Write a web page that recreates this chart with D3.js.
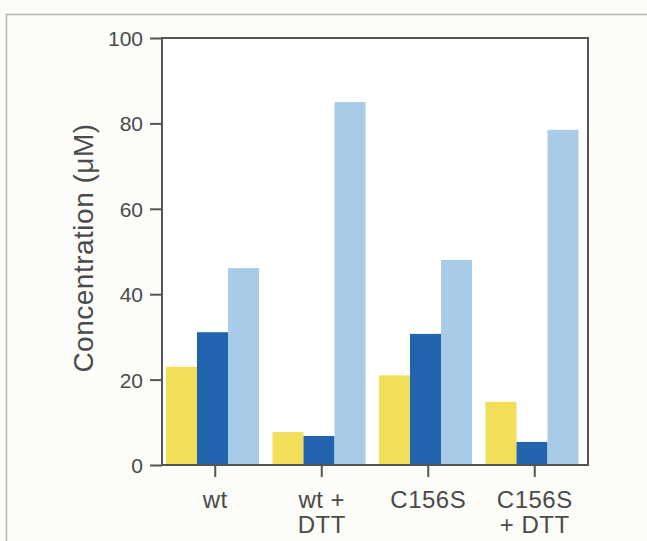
<!DOCTYPE html>
<html>
<head>
<meta charset="utf-8">
<script src="https://cdn.jsdelivr.net/npm/d3@7"></script>
<style>
  html, body { margin: 0; padding: 0; background: #fbfbf7; }
  svg { display: block; font-family: "Liberation Sans", Arial, sans-serif; }
  .axis text { fill: #4a4a4a; }
  .axis path, .axis line { stroke: #555; }
</style>
</head>
<body>
<div id="chart"></div>
<script>
// concentration per condition, three measurements each

var categories = ['wt', 'wt +|DTT', 'C156S', 'C156S|+ DTT']
var series = ['a', 'b', 'c']
var valuesA = [23, 7.7, 21, 14.8]
var valuesB = [31.1, 6.8, 30.7, 5.4]
var valuesC = [46.1, 85, 48, 78.5]
var yTicks = [0, 20, 40, 60, 80, 100]
var colors = ['#f2de58', '#2264ad', '#a8cbe8']

var width = 647,
	height = 541,
	plotLeft = 162,
	plotRight = 588,
	plotTop = 38,
	plotBottom = 465

var rows = categories.map(function(c, i){
	return {cat: c, vals: [valuesA[i], valuesB[i], valuesC[i]]}
})

var x0 = d3.scaleBand()
		   .domain(categories)
		   .range([plotLeft, plotRight])

var x1 = d3.scaleBand()
		   .domain(series)
		   .range([4, 97])

var y = d3.scaleLinear()
		  .domain([0, 100])
		  .range([plotBottom, plotTop])

var svg = d3.select('#chart')
  .append('svg')
	  .attr('width', width)
	  .attr('height', height)

// outer frame of the figure
svg.append('rect')
	.attr('x', 6.5)
	.attr('y', 14.5)
	.attr('width', 700)
	.attr('height', 600)
	.style('fill', '#fcfcf9')
	.style('stroke', '#b4b4b4')
	.style('stroke-width', 1.5)

svg.append('rect')
	.attr('x', plotLeft)
	.attr('y', plotTop)
	.attr('width', plotRight - plotLeft)
	.attr('height', plotBottom - plotTop)
	.style('fill', '#fff')

svg.selectAll('g.group').data(rows)
  .enter().append('g')
	.classed('group', true)
	.attr('transform', function(d){ return 'translate(' + x0(d.cat) + ',0)' })
	.selectAll('rect').data(function(d){
		return d.vals.map(function(v, i){ return {key: series[i], value: v, i: i} })
	})
	.enter().append('rect')
		.attr('x', function(d){ return x1(d.key) })
		.attr('width', x1.bandwidth())
		.attr('y', function(d){ return y(d.value) })
		.attr('height', function(d){ return y(0) - y(d.value) })
		.style('fill', function(d){ return colors[d.i] })

// plot box
svg.append('rect')
	.attr('x', plotLeft)
	.attr('y', plotTop)
	.attr('width', plotRight - plotLeft)
	.attr('height', plotBottom - plotTop)
	.style('fill', 'none')
	.style('stroke', '#555')
	.style('stroke-width', 2)

var yAxis = svg.append('g')
	.classed('axis', true)
	.attr('transform', 'translate(' + plotLeft + ',0)')
	.call(d3.axisLeft(y).tickValues(yTicks).tickSize(12).tickPadding(7))
yAxis.selectAll('text').style('font-size', '21px').attr('dy', '0.36em')
yAxis.selectAll('line').style('stroke-width', 2)
yAxis.select('.domain').remove()

var xAxis = svg.append('g')
	.classed('axis', true)
	.attr('transform', 'translate(0,' + plotBottom + ')')
	.call(d3.axisBottom(x0).tickSize(12).tickFormat(''))
xAxis.selectAll('line').style('stroke-width', 2)
xAxis.select('.domain').remove()

xAxis.selectAll('.tick').append('text')
	.style('font-size', '24px')
	.style('fill', '#4a4a4a')
	.style('letter-spacing', '0.5px')
	.attr('text-anchor', 'middle')
	.each(function(d){
		var lines = d.split('|')
		var t = d3.select(this)
		lines.forEach(function(l, i){
			t.append('tspan').attr('x', 0).attr('y', 43 + i * 25).text(l)
		})
	})

svg.append('text')
	.attr('transform', 'translate(93,248) rotate(-90)')
	.attr('text-anchor', 'middle')
	.style('font-size', '28px')
	.style('letter-spacing', '0.5px')
	.style('fill', '#4a4a4a')
	.text('Concentration (\u03bcM)')
</script>
</body>
</html>
